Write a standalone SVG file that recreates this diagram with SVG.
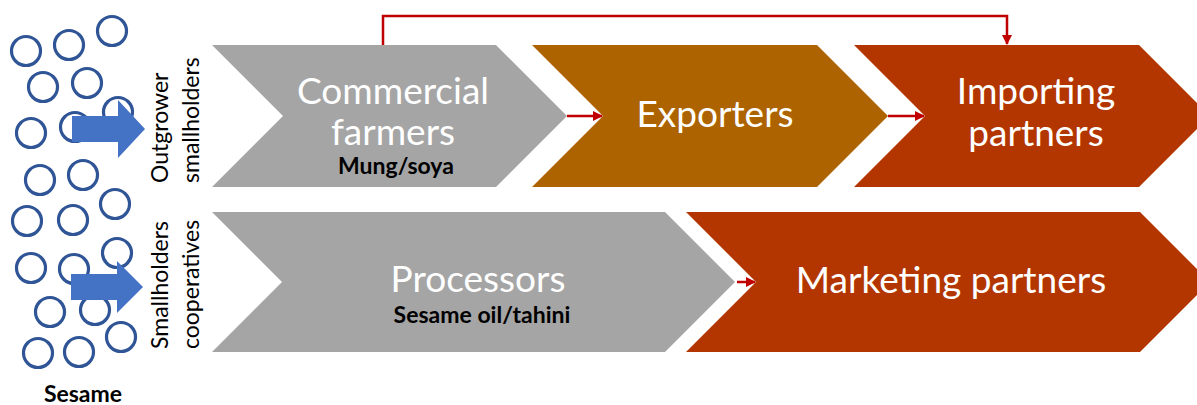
<svg xmlns="http://www.w3.org/2000/svg" width="1197" height="405" viewBox="0 0 1197 405">
  <style>
    .seed { fill: none; stroke: #2F5597; stroke-width: 3.2; }
    .block { fill: #4472C4; }
    .label { font-family: Lato, "Open Sans", "Liberation Sans", sans-serif; fill: #FFFFFF; font-size: 37px; text-anchor: middle; }
    .sub { font-family: Lato, "Open Sans", "Liberation Sans", sans-serif; fill: #000000; font-size: 23px; font-weight: bold; text-anchor: middle; }
    .side { font-family: Lato, "Open Sans", "Liberation Sans", sans-serif; fill: #000000; font-size: 23px; }
    .link { fill: none; stroke: #C00000; stroke-width: 2.5; }
  </style>
  <defs>
    <marker id="head" viewBox="0 0 10 10" refX="9" refY="5" markerWidth="4" markerHeight="4" orient="auto" markerUnits="strokeWidth">
      <path d="M0,0 L10,5 L0,10 Z" fill="#C00000"/>
    </marker>
  </defs>

  <rect width="1197" height="405" fill="#FFFFFF"/>

  <!-- sesame seeds -->
  <g id="seeds">
    <circle class="seed" cx="26" cy="51" r="14.5"/>
    <circle class="seed" cx="69" cy="45" r="14.5"/>
    <circle class="seed" cx="112" cy="31" r="14.5"/>
    <circle class="seed" cx="43" cy="87" r="14.5"/>
    <circle class="seed" cx="87" cy="83" r="14.5"/>
    <circle class="seed" cx="118" cy="112" r="14.5"/>
    <circle class="seed" cx="31" cy="133" r="14.5"/>
    <circle class="seed" cx="75" cy="127" r="14.5"/>
    <circle class="seed" cx="40" cy="180" r="14.5"/>
    <circle class="seed" cx="83" cy="175" r="14.5"/>
    <circle class="seed" cx="115" cy="204" r="14.5"/>
    <circle class="seed" cx="27" cy="221" r="14.5"/>
    <circle class="seed" cx="73" cy="220" r="14.5"/>
    <circle class="seed" cx="31" cy="268" r="14.5"/>
    <circle class="seed" cx="74" cy="269" r="14.5"/>
    <circle class="seed" cx="117" cy="253" r="14.5"/>
    <circle class="seed" cx="50" cy="312" r="14.5"/>
    <circle class="seed" cx="95" cy="310" r="14.5"/>
    <circle class="seed" cx="38" cy="353" r="14.5"/>
    <circle class="seed" cx="79" cy="352" r="14.5"/>
    <circle class="seed" cx="121" cy="337" r="14.5"/>
  </g>

  <!-- block arrows into the two channels -->
  <g id="arrow-outgrower">
    <path class="block" d="M72,116 H118 V100 L145,129 L118,158 V142 H72 Z"/>
  </g>
  <g id="arrow-cooperatives">
    <path class="block" d="M71,274 H117 V261 L143,287 L117,313 V300 H71 Z"/>
  </g>

  <g id="sesame-label">
    <text class="sub" x="83" y="402">Sesame</text>
  </g>

  <!-- vertical channel labels -->
  <g id="outgrower-label">
    <text class="side" transform="translate(168,183) rotate(-90)">Outgrower</text>
    <text class="side" transform="translate(199,183) rotate(-90)">smallholders</text>
  </g>
  <g id="cooperatives-label">
    <text class="side" transform="translate(168,349) rotate(-90)">Smallholders</text>
    <text class="side" transform="translate(199,349) rotate(-90)">cooperatives</text>
  </g>

  <!-- top value chain -->
  <g id="commercial-farmers">
    <path d="M212,45 H496 L567,116 L496,187 H212 L283,116 Z" fill="#A5A5A5"/>
    <text class="label" x="393" y="104">Commercial</text>
    <text class="label" x="393" y="145">farmers</text>
    <text class="sub" x="396" y="174">Mung/soya</text>
  </g>
  <g id="exporters">
    <path d="M532,45 H817 L888,116 L817,187 H532 L603,116 Z" fill="#AD6400"/>
    <text class="label" x="715" y="127">Exporters</text>
  </g>
  <g id="importing-partners">
    <path d="M854,45 H1139 L1210,116 L1139,187 H854 L925,116 Z" fill="#B33600"/>
    <text class="label" x="1036" y="104">Importing</text>
    <text class="label" x="1036" y="146">partners</text>
  </g>

  <!-- bottom value chain -->
  <g id="processors">
    <path d="M212,212 H665 L735,282 L665,352 H212 L282,282 Z" fill="#A5A5A5"/>
    <text class="label" x="478" y="292">Processors</text>
    <text class="sub" x="482" y="323">Sesame oil/tahini</text>
  </g>
  <g id="marketing-partners">
    <path d="M686,212 H1140 L1210,282 L1140,352 H686 L756,282 Z" fill="#B33600"/>
    <text class="label" x="951" y="293">Marketing partners</text>
  </g>

  <!-- flow connectors -->
  <g id="connectors">
    <path class="link" d="M383,45 V16 H1007 V44" marker-end="url(#head)"/>
    <path class="link" d="M567,116 H602" marker-end="url(#head)"/>
    <path class="link" d="M888,116 H924" marker-end="url(#head)"/>
    <path class="link" d="M737,282 H755" marker-end="url(#head)"/>
  </g>
</svg>
